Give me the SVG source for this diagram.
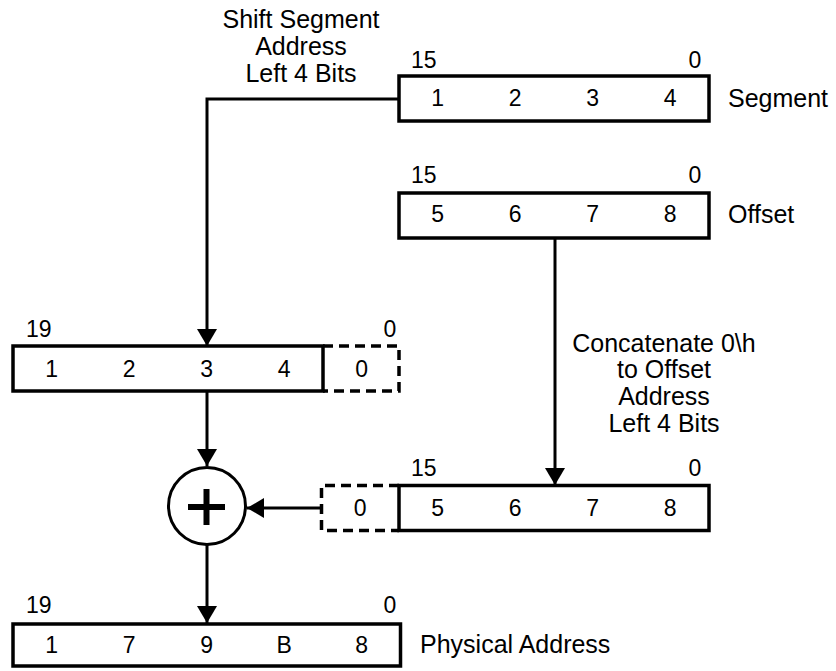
<svg xmlns="http://www.w3.org/2000/svg" width="836" height="671" viewBox="0 0 836 671">
  <style>
    text { font-family: "Liberation Sans", Arial, sans-serif; fill: #000; }
    .dg { font-size: 23px; text-anchor: middle; }
    .bit { font-size: 23px; }
    .lbl { font-size: 25px; }
    .note { font-size: 25px; text-anchor: middle; }
    .reg { fill: #fff; stroke: #000; stroke-width: 3.5; }
    .ext { fill: none; stroke: #000; stroke-width: 3.5; stroke-dasharray: 10 6; }
    .wire { fill: none; stroke: #000; stroke-width: 3; }
  </style>
  <defs>
    <marker id="head" markerWidth="20" markerHeight="20" refX="17" refY="10" orient="auto" markerUnits="userSpaceOnUse">
      <path d="M0,0 L17,10 L0,20 Z" fill="#000"/>
    </marker>
  </defs>
  <rect width="836" height="671" fill="#fff"/>

  <!-- connectors -->
  <g id="connectors">
    <path class="wire" d="M399,99 H207 V346" marker-end="url(#head)"/>
    <path class="wire" d="M555,238 V485" marker-end="url(#head)"/>
    <path class="wire" d="M207,391 V466" marker-end="url(#head)"/>
    <path class="wire" d="M321,508 H247" marker-end="url(#head)"/>
    <path class="wire" d="M207,545 V623" marker-end="url(#head)"/>
  </g>

  <!-- 16-bit segment register -->
  <g id="segment">
    <text class="bit" x="411" y="68">15</text>
    <text class="dg" x="695" y="68">0</text>
    <rect class="reg" x="399" y="76" width="310" height="45"/>
    <text class="dg" x="437.75" y="106">1</text>
    <text class="dg" x="515.25" y="106">2</text>
    <text class="dg" x="592.75" y="106">3</text>
    <text class="dg" x="670.25" y="106">4</text>
    <text class="lbl" x="728" y="107">Segment</text>
  </g>

  <!-- 16-bit offset register -->
  <g id="offset">
    <text class="bit" x="411" y="183">15</text>
    <text class="dg" x="695" y="183">0</text>
    <rect class="reg" x="399" y="193" width="310" height="45"/>
    <text class="dg" x="437.75" y="222">5</text>
    <text class="dg" x="515.25" y="222">6</text>
    <text class="dg" x="592.75" y="222">7</text>
    <text class="dg" x="670.25" y="222">8</text>
    <text class="lbl" x="728" y="223">Offset</text>
  </g>

  <!-- shift note -->
  <g id="shift-note">
    <text class="note" x="301" y="28">Shift Segment</text>
    <text class="note" x="301" y="55">Address</text>
    <text class="note" x="301" y="82">Left 4 Bits</text>
  </g>

  <!-- concatenate note -->
  <g id="concat-note">
    <text class="note" x="664" y="352">Concatenate 0\h</text>
    <text class="note" x="664" y="378">to Offset</text>
    <text class="note" x="664" y="405">Address</text>
    <text class="note" x="664" y="432">Left 4 Bits</text>
  </g>

  <!-- shifted segment, 20 bits -->
  <g id="shifted-segment">
    <text class="bit" x="26" y="337">19</text>
    <text class="dg" x="390" y="337">0</text>
    <path class="ext" d="M323,346 H399 V391 H323"/>
    <rect class="reg" x="13" y="346" width="310" height="45"/>
    <text class="dg" x="51.75" y="377">1</text>
    <text class="dg" x="129.25" y="377">2</text>
    <text class="dg" x="206.75" y="377">3</text>
    <text class="dg" x="284.25" y="377">4</text>
    <text class="dg" x="361.75" y="377">0</text>
  </g>

  <!-- shifted offset, 20 bits -->
  <g id="shifted-offset">
    <text class="bit" x="411" y="476">15</text>
    <text class="dg" x="695" y="476">0</text>
    <path class="ext" d="M399,485.5 H321.5 V530.5 H399"/>
    <rect class="reg" x="399" y="485.5" width="310" height="45"/>
    <text class="dg" x="360.25" y="516">0</text>
    <text class="dg" x="437.75" y="516">5</text>
    <text class="dg" x="515.25" y="516">6</text>
    <text class="dg" x="592.75" y="516">7</text>
    <text class="dg" x="670.25" y="516">8</text>
  </g>

  <!-- adder -->
  <g id="adder">
    <circle cx="207" cy="506" r="38.5" fill="#fff" stroke="#000" stroke-width="3"/>
    <path d="M188,507 H225 M206.5,489 V525" stroke="#000" stroke-width="6" fill="none"/>
  </g>

  <!-- physical address, 20 bits -->
  <g id="physical">
    <text class="bit" x="26" y="613">19</text>
    <text class="dg" x="390" y="613">0</text>
    <rect class="reg" x="13" y="624" width="387.5" height="42"/>
    <text class="dg" x="51.75" y="653">1</text>
    <text class="dg" x="129.25" y="653">7</text>
    <text class="dg" x="206.75" y="653">9</text>
    <text class="dg" x="284.25" y="653">B</text>
    <text class="dg" x="361.75" y="653">8</text>
    <text class="lbl" x="420" y="653">Physical Address</text>
  </g>
</svg>
